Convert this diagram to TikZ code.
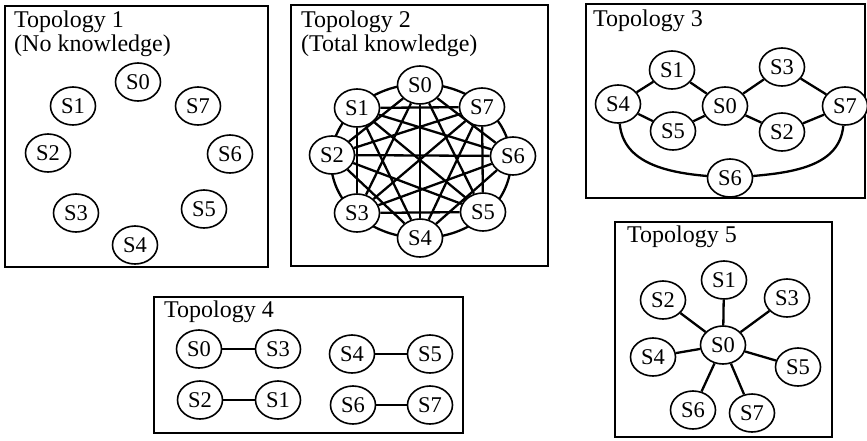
\documentclass[tikz,border=0pt]{standalone}
\usepackage{fontspec}
\setmainfont{Liberation Serif}
\usetikzlibrary{shapes.geometric}
\begin{document}
\begin{tikzpicture}[x=1pt,y=-1pt,
  panel/.style={draw, line width=1.8pt},
  title/.style={anchor=base west, inner sep=0pt, font=\fontsize{24}{27}\selectfont},
  sv/.style={ellipse, draw, fill=white, line width=1.6pt, minimum width=45pt,
             minimum height=38pt, inner sep=0pt, font=\fontsize{22.5}{22.5}\selectfont},
  link/.style={line width=2.3pt},
  thinlink/.style={line width=1.7pt}]
\useasboundingbox (0,0) rectangle (867,440);

% ---------- Topology 1: isolated sites ----------
\draw[panel] (5,6) rectangle (268,267);
\node[title] (t1a) at (14,27) {Topology 1};
\node[title] (t1b) at (14,51) {(No knowledge)};
\node[sv] (a0) at (138,82)  {S0};
\node[sv] (a1) at (73,106)  {S1};
\node[sv] (a7) at (198,106) {S7};
\node[sv] (a2) at (48,153)  {S2};
\node[sv] (a6) at (230,154) {S6};
\node[sv] (a3) at (76,213)  {S3};
\node[sv] (a5) at (204,209) {S5};
\node[sv] (a4) at (135,245) {S4};

% ---------- Topology 2: complete graph ----------
\draw[panel] (291,5) rectangle (548,266);
\node[title] (t2a) at (301,27) {Topology 2};
\node[title] (t2b) at (301,51) {(Total knowledge)};
% ring joining neighbouring sites
\draw[link] (421,161) ellipse [x radius=90, y radius=77];
\node[sv] (b0) at (420,85)  {S0};
\node[sv] (b1) at (357,108) {S1};
\node[sv] (b7) at (482,107) {S7};
\node[sv] (b2) at (332,155) {S2};
\node[sv] (b6) at (513,156) {S6};
\node[sv] (b3) at (357,213) {S3};
\node[sv] (b5) at (483,212) {S5};
\node[sv] (b4) at (420,238) {S4};
% chords between all non-neighbouring sites
\foreach \i/\j in {0/2,0/3,0/4,0/5,0/6,
                   1/3,1/4,1/5,1/6,1/7,
                   2/4,2/5,2/6,2/7,
                   3/5,3/6,3/7,
                   4/6,4/7,
                   5/7} {
  \draw[link] (b\i) -- (b\j);
}

% ---------- Topology 3: ring of diamonds ----------
\draw[panel] (586,4) rectangle (865,198);
\node[title] (t3) at (593,26) {Topology 3};
\node[sv] (c1) at (672,70)  {S1};
\node[sv] (c3) at (782,67)  {S3};
\node[sv] (c4) at (618,104) {S4};
\node[sv] (c0) at (725,106) {S0};
\node[sv] (c7) at (845,106) {S7};
\node[sv] (c5) at (673,131) {S5};
\node[sv] (c2) at (782,132) {S2};
\node[sv] (c6) at (730,178) {S6};
\draw[link] (c4) -- (c1);
\draw[link] (c1) -- (c0);
\draw[link] (c4) -- (c5);
\draw[link] (c5) -- (c0);
\draw[link] (c0) -- (c3);
\draw[link] (c3) -- (c7);
\draw[link] (c0) -- (c2);
\draw[link] (c2) -- (c7);
\draw[link] (c4) to[out=-85,in=175] (c6);
\draw[link] (c6) to[out=5,in=-95] (c7);

% ---------- Topology 4: pairs ----------
\draw[panel] (154,297) rectangle (463,433);
\node[title] (t4) at (164,317) {Topology 4};
\node[sv] (d0) at (199,349) {S0};
\node[sv] (d3) at (278,349) {S3};
\node[sv] (d2) at (200,400) {S2};
\node[sv] (d1) at (278,400) {S1};
\node[sv] (d4) at (352,354) {S4};
\node[sv] (d5) at (430,354) {S5};
\node[sv] (d6) at (353,405) {S6};
\node[sv] (d7) at (430,405) {S7};
\draw[thinlink] (d0) -- (d3);
\draw[thinlink] (d2) -- (d1);
\draw[thinlink] (d4) -- (d5);
\draw[thinlink] (d6) -- (d7);

% ---------- Topology 5: star ----------
\draw[panel] (615,222) rectangle (832,437);
\node[title] (t5) at (627,242) {Topology 5};
\node[sv] (e1) at (724,280) {S1};
\node[sv] (e2) at (663,300) {S2};
\node[sv] (e3) at (787,298) {S3};
\node[sv] (e0) at (723,345) {S0};
\node[sv] (e4) at (653,357) {S4};
\node[sv] (e5) at (798,367) {S5};
\node[sv] (e6) at (693,410) {S6};
\node[sv] (e7) at (752,413) {S7};
\foreach \k in {1,...,7} { \draw[link] (e0) -- (e\k); }
\end{tikzpicture}
\end{document}
